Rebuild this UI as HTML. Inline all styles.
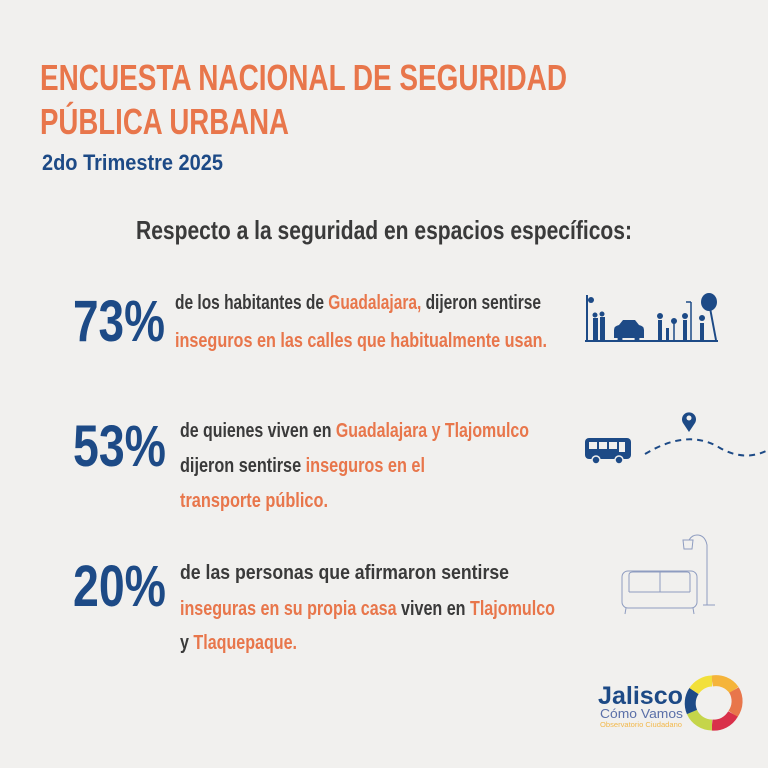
<!DOCTYPE html>
<html><head><meta charset="utf-8"><style>
html,body{margin:0;padding:0;background:#f1f0ee}
svg{display:block;font-family:"Liberation Sans",sans-serif}
</style></head><body>
<svg width="768" height="768" viewBox="0 0 768 768" xmlns="http://www.w3.org/2000/svg">
<rect width="768" height="768" fill="#f1f0ee"/>
<g fill="#e8764b" font-weight="bold" font-size="36">
<text x="40" y="90" textLength="527" lengthAdjust="spacingAndGlyphs">ENCUESTA NACIONAL DE SEGURIDAD</text>
<text x="40" y="134" textLength="249" lengthAdjust="spacingAndGlyphs">PÚBLICA URBANA</text>
</g>
<text x="42" y="170" fill="#1d4a86" font-weight="bold" font-size="22" textLength="181" lengthAdjust="spacingAndGlyphs">2do Trimestre 2025</text>
<text x="136" y="239" fill="#3a3a3a" font-weight="bold" font-size="26" textLength="496" lengthAdjust="spacingAndGlyphs">Respecto a la seguridad en espacios específicos:</text>

<g font-weight="bold" fill="#1d4a86" font-size="58">
<text x="73" y="341" textLength="92" lengthAdjust="spacingAndGlyphs">73%</text>
<text x="73" y="466" textLength="93" lengthAdjust="spacingAndGlyphs">53%</text>
<text x="73" y="606" textLength="93" lengthAdjust="spacingAndGlyphs">20%</text>
</g>
<g font-size="20" font-weight="bold" fill="#3a3a3a">
<text x="175" y="309" textLength="366" lengthAdjust="spacingAndGlyphs">de los habitantes de <tspan fill="#e8764b">Guadalajara,</tspan> dijeron sentirse</text>
<text x="175" y="347" fill="#e8764b" textLength="372" lengthAdjust="spacingAndGlyphs">inseguros en las calles que habitualmente usan.</text>
<text x="180" y="437" textLength="349" lengthAdjust="spacingAndGlyphs">de quienes viven en <tspan fill="#e8764b">Guadalajara y Tlajomulco</tspan></text>
<text x="180" y="472" textLength="245" lengthAdjust="spacingAndGlyphs">dijeron sentirse <tspan fill="#e8764b">inseguros en el</tspan></text>
<text x="180" y="507" fill="#e8764b" textLength="148" lengthAdjust="spacingAndGlyphs">transporte público.</text>
<text x="180" y="579" textLength="329" lengthAdjust="spacingAndGlyphs">de las personas que afirmaron sentirse</text>
<text x="180" y="615" textLength="375" lengthAdjust="spacingAndGlyphs"><tspan fill="#e8764b">inseguras en su propia casa</tspan> viven en <tspan fill="#e8764b">Tlajomulco</tspan></text>
<text x="180" y="649" textLength="117" lengthAdjust="spacingAndGlyphs">y <tspan fill="#e8764b">Tlaquepaque.</tspan></text>
</g>

<g fill="#1d4a86" stroke="#1d4a86">
<line x1="585" y1="341" x2="718" y2="341" stroke-width="2"/>
<line x1="587" y1="295" x2="587" y2="340" stroke-width="2"/>
<circle cx="591" cy="300" r="3" stroke="none"/>
<rect x="593" y="318" width="5" height="22" stroke="none"/><rect x="600" y="317" width="5" height="23" stroke="none"/>
<circle cx="595" cy="315" r="2.5" stroke="none"/><circle cx="602" cy="314" r="2.5" stroke="none"/>
<path d="M614 338 v-8 q0-4 5-5 l4-5 h12 l4 5 q5 1 5 5 v8z" stroke="none"/>
<circle cx="620" cy="339" r="2.5" stroke="none"/><circle cx="637" cy="339" r="2.5" stroke="none"/>
<rect x="658" y="320" width="4" height="20" stroke="none"/><circle cx="660" cy="316" r="3" stroke="none"/>
<rect x="666" y="328" width="3" height="12" stroke="none"/><line x1="674" y1="322" x2="674" y2="340" stroke-width="1.5"/><circle cx="674" cy="321" r="3" stroke="none"/>
<rect x="683" y="320" width="4" height="20" stroke="none"/><circle cx="685" cy="316" r="3" stroke="none"/>
<line x1="691" y1="302" x2="691" y2="340" stroke-width="1.5"/><line x1="686" y1="302" x2="691" y2="302" stroke-width="1.5"/>
<rect x="700" y="323" width="4" height="17" stroke="none"/><circle cx="702" cy="318" r="3" stroke="none"/>
<ellipse cx="709" cy="302" rx="8" ry="9" stroke="none"/><line x1="710" y1="308" x2="716" y2="340" stroke-width="2"/>
</g>
<g>
<rect x="585" y="438" width="46" height="21" rx="4" fill="#1d4a86"/>
<rect x="589" y="442" width="8" height="7" fill="#f1f0ee"/><rect x="599" y="442" width="8" height="7" fill="#f1f0ee"/><rect x="609" y="442" width="8" height="7" fill="#f1f0ee"/><rect x="619" y="442" width="6" height="10" fill="#f1f0ee"/>
<circle cx="596" cy="460" r="4" fill="#1d4a86" stroke="#f1f0ee" stroke-width="1.5"/><circle cx="619" cy="460" r="4" fill="#1d4a86" stroke="#f1f0ee" stroke-width="1.5"/>
</g>
<path d="M645 454 Q688 428 720 448 Q745 462 768 450" fill="none" stroke="#1d4a86" stroke-width="2" stroke-dasharray="6 5"/>
<path d="M689 432 l-6 -9 a7 7 0 1 1 12 0z" fill="#1d4a86"/>
<circle cx="689" cy="418" r="2.5" fill="#f1f0ee"/>
<g fill="none" stroke="#8e9cc0" stroke-width="1">
<rect x="622" y="571" width="75" height="37" rx="6"/>
<path d="M629 592 v-17 q0-3 4-3 h27 v20 M660 572 h27 q3 0 3 3 v17 M629 592 h61"/>
<line x1="626" y1="608" x2="625" y2="614"/><line x1="693" y1="608" x2="694" y2="614"/>
<path d="M689 540 q3-5 8-5 q8 0 10 10 v60 M703 605 h12"/>
<path d="M683 540 h10 l-1 9 h-8z"/>
</g>
<g>
<text x="598" y="704" fill="#1d4a86" font-weight="bold" font-size="25" textLength="85" lengthAdjust="spacingAndGlyphs">Jalisco</text>
<text x="600" y="718" fill="#5a6fa8" font-size="13" textLength="83" lengthAdjust="spacingAndGlyphs">Cómo Vamos</text>
<text x="600" y="727" fill="#f2b84b" font-size="7" textLength="82" lengthAdjust="spacingAndGlyphs">Observatorio Ciudadano</text>
<g fill="none" stroke-width="11">
<path d="M712 681 A22 22 0 0 1 734 690" stroke="#f5b43a"/>
<path d="M734 690 A22 22 0 0 1 733 714" stroke="#e8764b"/>
<path d="M733 714 A22 22 0 0 1 712 725" stroke="#d9304a"/>
<path d="M712 725 A22 22 0 0 1 692 712" stroke="#c5d54a"/>
<path d="M692 712 A22 22 0 0 1 694 691" stroke="#1d4a86"/>
<path d="M694 691 A22 22 0 0 1 712 681" stroke="#f2e03a"/>
</g>
</g>
</svg>
</body></html>
